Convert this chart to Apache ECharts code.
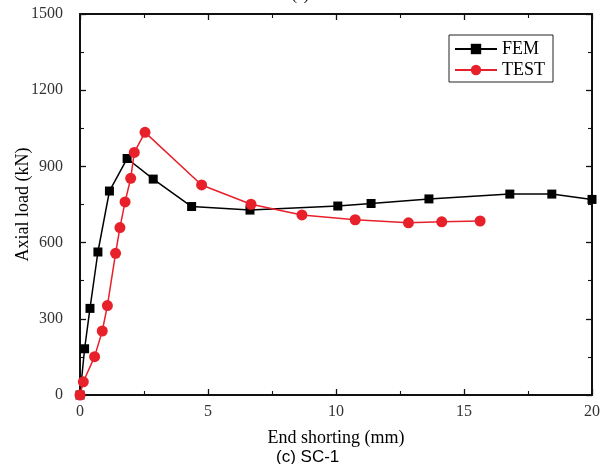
<!DOCTYPE html>
<html><head><meta charset="utf-8">
<script src="https://cdn.jsdelivr.net/npm/echarts@6/dist/echarts.min.js"></script>
<style>html,body{margin:0;padding:0;background:#fff}#c{width:609px;height:464px}</style>
</head><body><div id="c"></div>
<script>
const femX = [0, 0.18, 0.39, 0.7, 1.15, 1.84, 2.86, 4.36, 6.64, 10.07, 11.37, 13.63, 16.79, 18.43, 20];
const femY = [0, 182, 341, 563, 803, 931, 850, 742, 728, 744, 754, 772, 791, 791, 770];
const testX = [0, 0.13, 0.57, 0.87, 1.07, 1.39, 1.56, 1.76, 1.98, 2.12, 2.54, 4.75, 6.68, 8.67, 10.75, 12.83, 14.13, 15.63];
const testY = [0, 52, 151, 252, 352, 558, 659, 760, 853, 955, 1034, 827, 751, 709, 690, 678, 682, 685];
const xTicks = [0, 5, 10, 15, 20];
const yTicks = [0, 300, 600, 900, 1200, 1500];

const F = 'Liberation Serif';
const chart = echarts.init(document.getElementById('c'));
const zip = (a, b) => a.map((v, i) => [v, b[i]]);
const axisCommon = {
  axisLine: {show: true, onZero: false, lineStyle: {color: '#111', width: 2}},
  axisTick: {show: true, inside: true, length: 6, lineStyle: {color: '#111', width: 1.3}},
  minorTick: {show: true, splitNumber: 2, length: 4, lineStyle: {color: '#111', width: 1.1}},
  splitLine: {show: false}
};
chart.setOption({
  animation: false,
  backgroundColor: '#fff',
  grid: {left: 80, right: 17, top: 14, bottom: 69, containLabel: false, outerBoundsMode: 'none'},
  graphic: [
    {type: 'text', left: 292, top: -11, style: {text: '(c)', font: '15px "Liberation Serif"', fill: '#000'}},
    {type: 'text', left: 276, top: 449, style: {text: '(c) SC-1', font: '17px "Liberation Sans"', fill: '#000'}}
  ],
  xAxis: [
    Object.assign({}, axisCommon, {
      type: 'value', min: 0, max: 20, interval: 5, position: 'bottom',
      name: 'End shorting (mm)', nameLocation: 'middle', nameGap: 34, nameMoveOverlap: false,
      nameTextStyle: {fontFamily: F, fontSize: 18, color: '#000'},
      axisLabel: {fontFamily: F, fontSize: 16, color: '#333', margin: 9,
        formatter: v => xTicks.includes(v) ? String(v) : ''}
    }),
    Object.assign({}, axisCommon, {
      type: 'value', min: 0, max: 20, interval: 5, position: 'top',
      axisLabel: {show: false}
    })
  ],
  yAxis: [
    Object.assign({}, axisCommon, {
      type: 'value', min: 0, max: 1500, interval: 300, position: 'left',
      name: 'Axial load (kN)', nameLocation: 'middle', nameGap: 48, nameMoveOverlap: false,
      nameTextStyle: {fontFamily: F, fontSize: 18, color: '#000'},
      axisLabel: {fontFamily: F, fontSize: 16, color: '#333', margin: 17,
        formatter: v => yTicks.includes(v) ? String(v) : ''}
    }),
    Object.assign({}, axisCommon, {
      type: 'value', min: 0, max: 1500, interval: 300, position: 'right',
      axisLabel: {show: false}
    })
  ],
  legend: {
    right: 56, top: 35, orient: 'vertical', itemGap: 3,
    itemWidth: 42, itemHeight: 13,
    padding: [5, 8, 3, 5],
    borderColor: '#222', borderWidth: 1,
    textStyle: {fontFamily: F, fontSize: 18, color: '#000'},
    data: ['FEM', 'TEST']
  },
  series: [
    {name: 'FEM', type: 'line', data: zip(femX, femY), symbol: 'rect', symbolSize: 9,
      lineStyle: {color: '#000', width: 1.5}, itemStyle: {color: '#000'}, z: 3},
    {name: 'TEST', type: 'line', data: zip(testX, testY), symbol: 'circle', symbolSize: 11,
      lineStyle: {color: '#e8202a', width: 1.5}, itemStyle: {color: '#e8202a'}, z: 4}
  ]
});
</script></body></html>
